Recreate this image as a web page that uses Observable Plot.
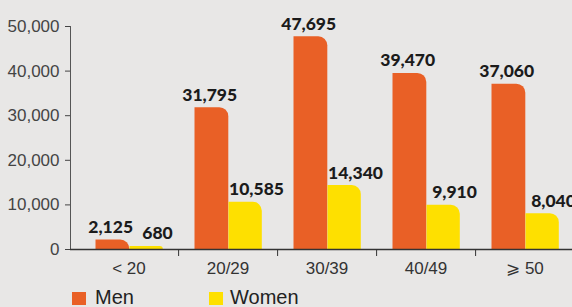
<!DOCTYPE html>
<html>
<head>
<meta charset="utf-8">
<script src="https://cdn.jsdelivr.net/npm/d3@7"></script>
<script src="https://cdn.jsdelivr.net/npm/@observablehq/plot@0.6"></script>
<style>
  html, body { margin: 0; padding: 0; background: #e8e7e6; }
  #chart { width: 572px; height: 307px; overflow: hidden; position: relative; }
  #chart svg { display: block; }
  .legend { position: relative; height: 30px; font-family: "Liberation Sans", Arial, sans-serif; font-size: 20px; color: #222; }
  .item { position: absolute; top: 0; height: 30px; }
  .sw { position: absolute; top: 15px; width: 14px; height: 13px; }
  .lab { position: absolute; top: 9px; line-height: 22px; white-space: nowrap; }
</style>
</head>
<body>
<div id="chart"></div>
<script>
const categories = ["< 20", "20/29", "30/39", "40/49", "⩾ 50"];
const men = [2125, 31795, 47695, 39470, 37060];
const women = [680, 10585, 14340, 9910, 8040];
const yTicks = [0, 10000, 20000, 30000, 40000, 50000];
const seriesNames = ["Men", "Women"];
const seriesColors = ["#E96026", "#FEE000"];

const rows = categories.map((c, i) => ({category: c, men: men[i], women: women[i]}));
const fmt = d3.format(",");

const labelStyle = {fontFamily: "Lato, 'Liberation Sans', sans-serif", fontWeight: 900, fontSize: 17.5, fill: "#1b1b1b", lineAnchor: "bottom", dy: -7};

const chart = Plot.plot({
  width: 572,
  height: 277,
  marginLeft: 70,
  marginRight: 0,
  marginTop: 26,
  marginBottom: 28,
  style: {background: "transparent", fontFamily: "'Liberation Sans', Arial, sans-serif", fontSize: "17px", color: "#444", overflow: "visible"},
  x: {domain: categories, range: [78.5, 574.5], padding: 0, axis: null},
  y: {domain: [0, 50000], axis: null},
  marks: [
    Plot.barY(rows, {x: "category", y: "men", fill: seriesColors[0], insetLeft: 16.5, insetRight: 48.7, rx2y1: 9}),
    Plot.barY(rows, {x: "category", y: "women", fill: seriesColors[1], insetLeft: 50.5, insetRight: 15.2, rx2y1: 9}),
    Plot.axisY({ticks: yTicks, tickFormat: fmt, tickSize: 5, tickPadding: 6, color: "#444", fontSize: 17, label: null}),
    Plot.frame({anchor: "left", stroke: "#555"}),
    Plot.ruleY([0], {stroke: "#333", strokeWidth: 1.5}),
    Plot.axisX({tickSize: 0, tickPadding: 12, color: "#333", fontSize: 17, label: null}),
    Plot.axisX({tickSize: 7, tickFormat: () => "", dx: 49.6, stroke: "#333", label: null}),
    Plot.text(rows, {x: "category", y: "men", text: d => fmt(d.men), dx: -18.3, ...labelStyle}),
    Plot.text(rows, {x: "category", y: "women", text: d => fmt(d.women), dx: 28.5, ...labelStyle})
  ]
});
document.getElementById("chart").appendChild(chart);

const legend = document.createElement("div");
legend.className = "legend";
const itemLeft = [72, 209];
seriesNames.forEach((name, i) => {
  const item = document.createElement("div");
  item.className = "item";
  item.style.left = itemLeft[i] + "px";
  const sw = document.createElement("span");
  sw.className = "sw";
  sw.style.left = "0px";
  sw.style.background = seriesColors[i];
  const lab = document.createElement("span");
  lab.className = "lab";
  lab.style.left = (i === 0 ? 23 : 21) + "px";
  lab.textContent = name;
  item.appendChild(sw);
  item.appendChild(lab);
  legend.appendChild(item);
});
document.getElementById("chart").appendChild(legend);
</script>
</body>
</html>
